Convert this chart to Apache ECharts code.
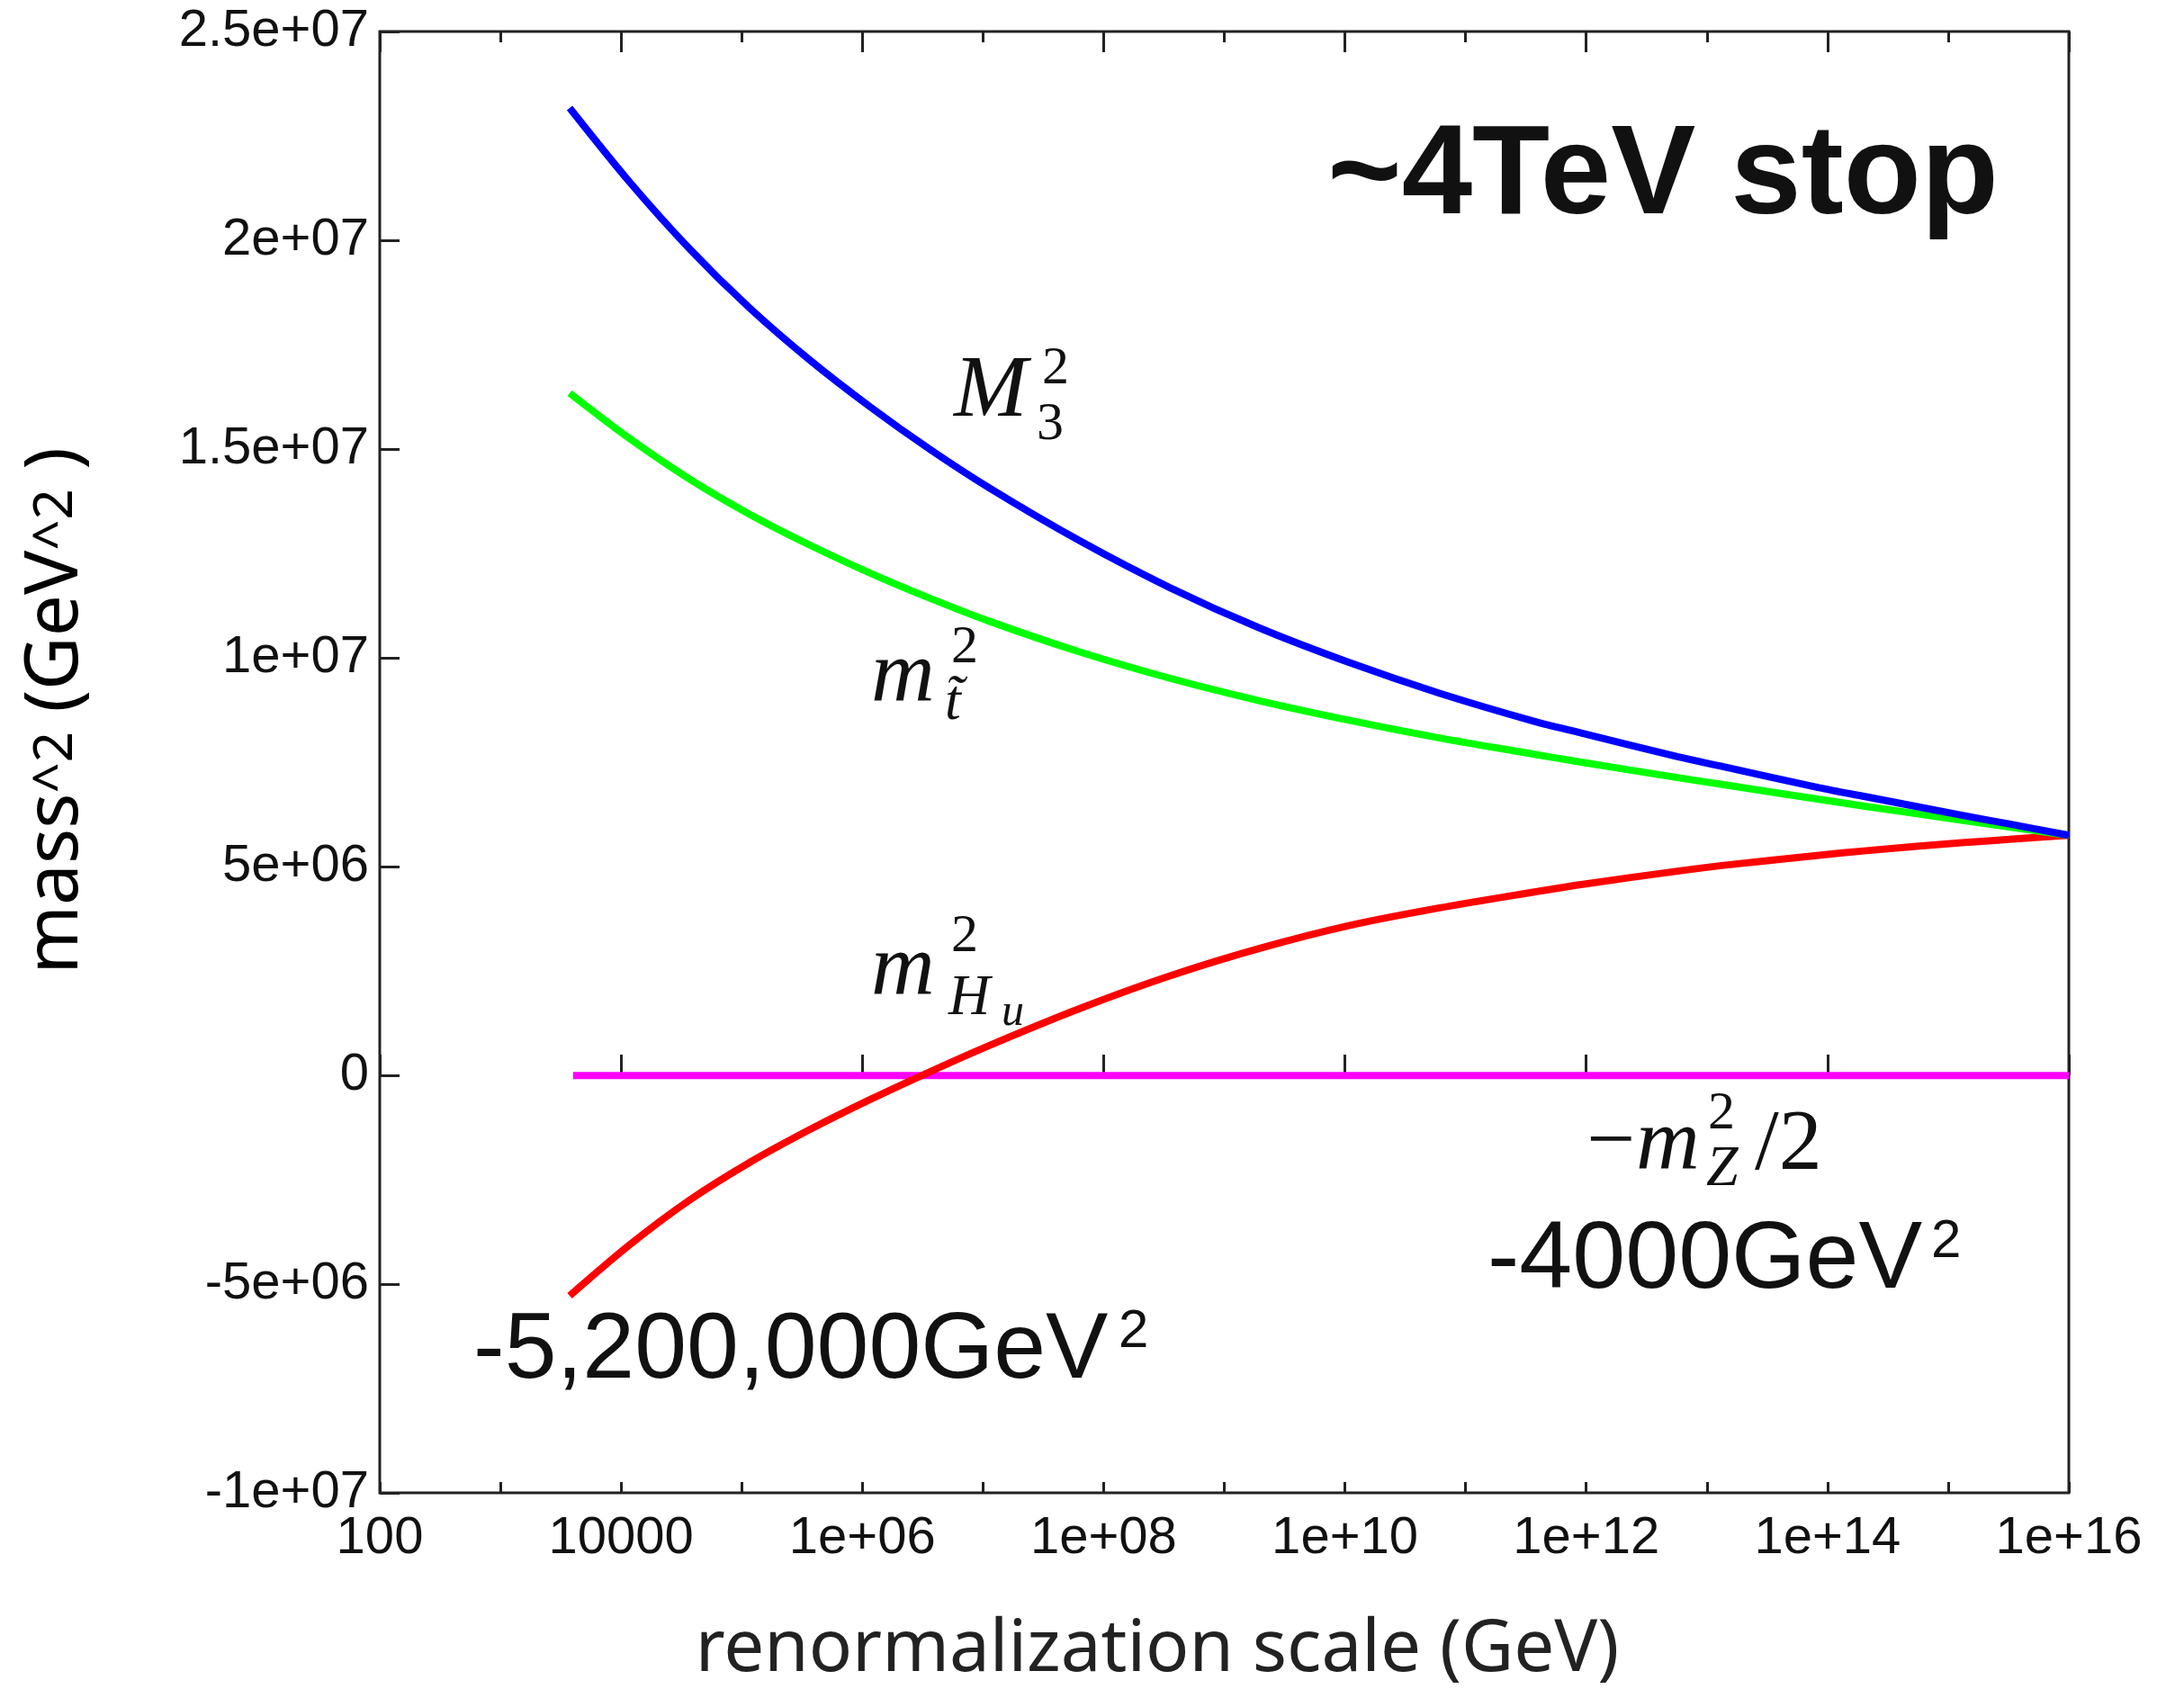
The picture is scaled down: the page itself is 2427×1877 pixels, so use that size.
<!DOCTYPE html>
<html>
<head>
<meta charset="utf-8">
<script src="https://cdn.jsdelivr.net/npm/echarts@6/dist/echarts.min.js"></script>
<style>
  html, body { margin: 0; padding: 0; background: #fff; }
  #main { width: 2427px; height: 1877px; }
</style>
</head>
<body>
<div id="main"></div>
<script>
// renormalization scale (GeV), shared by the three running curves
var scaleGeV = [3.75e3, 1.19e4, 3.74e4, 1.16e5, 3.67e5, 1.16e6, 3.6e6, 1.14e7, 6.35e7, 3.54e8, 1.97e9, 1.1e10,
  6.1e10, 3.7e11, 9.1e11, 5.7e12, 1.38e13, 8.5e13, 2.1e14, 1.29e15, 3.2e15, 1e16]
// M3^2 (blue)
var gluinoSq = [2.317e7, 2.138e7, 1.978e7, 1.838e7, 1.713e7, 1.601e7, 1.500e7, 1.406e7, 1.280e7, 1.168e7, 1.071e7, 9.88e6,
  9.15e6, 8.48e6, 8.20e6, 7.63e6, 7.39e6, 6.89e6, 6.67e6, 6.23e6, 6.02e6, 5.75e6]
// m_stop^2 (green)
var stopSq = [1.634e7, 1.524e7, 1.427e7, 1.344e7, 1.270e7, 1.203e7, 1.143e7, 1.087e7, 1.014e7, 9.51e6, 8.97e6, 8.50e6,
  8.08e6, 7.69e6, 7.50e6, 7.13e6, 6.96e6, 6.61e6, 6.44e6, 6.11e6, 5.95e6, 5.75e6]
// m_Hu^2 (red)
var higgsSq = [-5.28e6, -4.05e6, -2.98e6, -2.09e6, -1.30e6, -5.8e5, 8.0e4, 7.2e5, 1.60e6, 2.38e6, 3.04e6, 3.59e6,
  4.01e6, 4.39e6, 4.57e6, 4.89e6, 5.03e6, 5.27e6, 5.38e6, 5.57e6, 5.65e6, 5.75e6]
// -mZ^2/2 (magenta)
var mzScale = [4.0e3, 1e16]
var mzTerm = [-4000, -4000]

// tick labels
var xTickExp = [2, 4, 6, 8, 10, 12, 14, 16]
var xTickLabels = ['100', '10000', '1e+06', '1e+08', '1e+10', '1e+12', '1e+14', '1e+16']
var yTicks = [-1e7, -5e6, 0, 5e6, 1e7, 1.5e7, 2e7, 2.5e7]
var yTickLabels = ['-1e+07', '-5e+06', '0', '5e+06', '1e+07', '1.5e+07', '2e+07', '2.5e+07']

function pairs (xs, ys) {
  var out = []
  xs.forEach(function (x, i) { out.push([x, ys[i]]) })
  return out
}

var tickFont = { fontFamily: 'Liberation Sans', fontSize: 58, color: '#111' }
var mathBig = 'italic 98px "Liberation Serif"'
var mathSub = 'italic 64px "Liberation Serif"'
var digitSup = '60px "Liberation Serif"'
var romanBig = '96px "Liberation Serif"'

function xAxisDef (pos, step, len, labels) {
  return {
    type: 'log', logBase: 10, position: pos, min: 100, max: 1e16, interval: step,
    axisLine: { show: false },
    axisTick: { show: true, inside: true, length: len, lineStyle: { color: '#222', width: 3 } },
    splitLine: { show: false },
    axisLabel: labels ? Object.assign({
      show: true, margin: 22,
      formatter: function (v) {
        var e = Math.round(Math.log10(v))
        var i = xTickExp.indexOf(e)
        return i < 0 ? '' : xTickLabels[i]
      }
    }, tickFont) : { show: false }
  }
}

function txt (x, y, text, font, align) {
  return {
    type: 'text', x: x, y: y,
    style: { text: text, font: font, fill: '#111', textAlign: align || 'left', textVerticalAlign: 'middle' }
  }
}

var chart = echarts.init(document.getElementById('main'))
chart.setOption({
  backgroundColor: '#fff',
  animation: false,
  grid: { left: 422, right: 128, top: 35, bottom: 218, show: true, borderColor: '#222', borderWidth: 3, backgroundColor: '#fff' },
  xAxis: [
    xAxisDef('bottom', 2, 23, true),
    xAxisDef('bottom', 1, 12, false),
    xAxisDef('top', 2, 23, false),
    xAxisDef('top', 1, 12, false)
  ],
  yAxis: {
    type: 'value', min: -1e7, max: 2.5e7, interval: 5e6,
    axisLine: { show: false },
    axisTick: { show: true, inside: true, length: 22, lineStyle: { color: '#222', width: 3 } },
    splitLine: { show: false },
    axisLabel: Object.assign({
      margin: 12,
      formatter: function (v) {
        var i = yTicks.indexOf(v)
        return i < 0 ? '' : yTickLabels[i]
      }
    }, tickFont)
  },
  series: [
    { type: 'line', data: pairs(mzScale, mzTerm), showSymbol: false, lineStyle: { color: '#ff00ff', width: 8 } },
    { type: 'line', data: pairs(scaleGeV, higgsSq), smooth: 0.3, showSymbol: false, lineStyle: { color: '#ff0000', width: 8 } },
    { type: 'line', data: pairs(scaleGeV, stopSq), smooth: 0.3, showSymbol: false, lineStyle: { color: '#00ff00', width: 8 } },
    { type: 'line', data: pairs(scaleGeV, gluinoSq), smooth: 0.3, showSymbol: false, lineStyle: { color: '#0000ff', width: 8 } }
  ],
  graphic: [
    // axis titles
    {
      type: 'text', x: 1286, y: 1834,
      style: { text: 'renormalization scale (GeV)', font: '80px "Noto Sans"', fill: '#222', textAlign: 'center', textVerticalAlign: 'middle' }
    },
    {
      type: 'text', x: 63, y: 790, rotation: Math.PI / 2,
      style: {
        text: '{a|mass}{b|^2}{a| (GeV}{b|^2}{a| )}', textAlign: 'center', textVerticalAlign: 'middle',
        rich: {
          a: { fontFamily: 'Noto Sans', fontSize: 82, color: '#222' },
          b: { fontFamily: 'Noto Sans', fontSize: 60, color: '#222' }
        }
      }
    },
    txt(2221, 198, '~4TeV stop', 'bold 141px "Liberation Sans"', 'right'),
    // M_3^2
    txt(1060, 436, 'M', mathBig),
    txt(1158, 410, '2', digitSup),
    txt(1152, 472, '3', digitSup),
    // m_stop^2
    txt(968, 752, 'm', mathBig),
    txt(1057, 720, '2', digitSup),
    txt(1050, 782, 't\u0303', mathSub),
    // m_Hu^2
    txt(968, 1078, 'm', mathBig),
    txt(1057, 1041, '2', digitSup),
    txt(1054, 1110, 'H', mathSub),
    txt(1113, 1126, 'u', 'italic 50px "Liberation Serif"'),
    // -mZ^2/2
    txt(1763, 1272, '\u2212', romanBig),
    txt(1818, 1272, 'm', mathBig),
    txt(1898, 1238, '2', digitSup),
    txt(1896, 1300, 'Z', mathSub),
    txt(1950, 1274, '/2', romanBig),
    // value notes
    txt(526, 1502, '-5,200,000GeV', '104px "Liberation Sans"'),
    txt(1243, 1480, '2', '60px "Liberation Sans"'),
    txt(1653, 1402, '-4000GeV', '106px "Liberation Sans"'),
    txt(2146, 1380, '2', '60px "Liberation Sans"')
  ]
})
</script>
</body>
</html>
